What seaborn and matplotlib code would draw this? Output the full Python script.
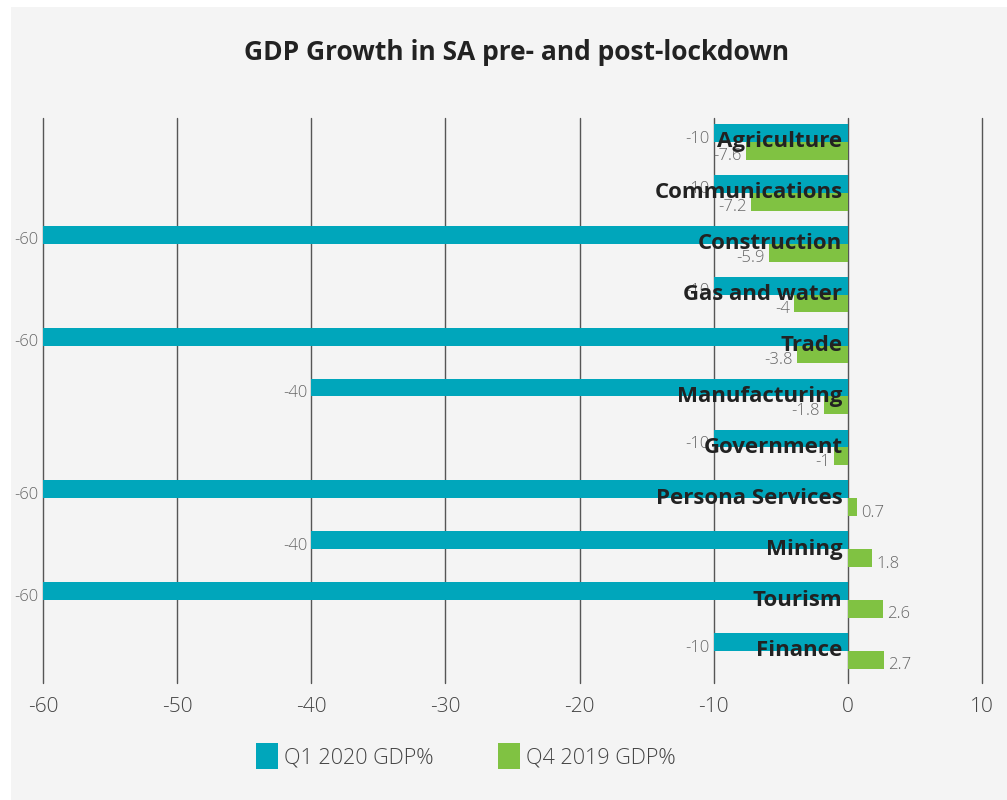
import matplotlib
matplotlib.use("Agg")
import matplotlib.pyplot as plt
import pandas as pd
import seaborn as sns
from matplotlib.patches import Rectangle

# data
sectors = ["Agriculture", "Communications", "Construction", "Gas and water", "Trade",
           "Manufacturing", "Government", "Persona Services", "Mining", "Tourism", "Finance"]
q1_2020 = [-10, -10, -60, -10, -60, -40, -10, -60, -40, -60, -10]
q4_2019 = [-7.6, -7.2, -5.9, -4, -3.8, -1.8, -1, 0.7, 1.8, 2.6, 2.7]
series = ["Q1 2020 GDP%", "Q4 2019 GDP%"]
colors = ["#00a6bb", "#80c242"]

df = pd.DataFrame({
    "Sector": sectors * 2,
    "Value": q1_2020 + q4_2019,
    "Series": [series[0]] * len(sectors) + [series[1]] * len(sectors),
})

sns.set_theme(style="white")
plt.rcParams["font.family"] = ["Open Sans", "DejaVu Sans"]
plt.rcParams["axes.unicode_minus"] = False

fig = plt.figure(figsize=(10.07, 8), dpi=100)
fig.patch.set_facecolor("white")
fig.patches.append(Rectangle((11 / 1007, 0), 1, 793 / 800, transform=fig.transFigure,
                             facecolor="#f4f4f4", edgecolor="none", zorder=-10))

ax = fig.add_axes([43 / 1007, 1 - 683 / 800, (982 - 43) / 1007, (683 - 118) / 800])
ax.set_facecolor("#f4f4f4")

sns.barplot(data=df, y="Sector", x="Value", hue="Series", orient="h",
            palette=colors, width=0.7, dodge=True, ax=ax, zorder=3, saturation=1,
            linewidth=0, edgecolor="none")

# value labels, a little below the bar centre like the original
for cont in ax.containers:
    for bar, v in zip(cont.patches, cont.datavalues):
        yc = bar.get_y() + bar.get_height() / 2
        if v < 0:
            ax.annotate(f"{v:g}", (v, yc), xytext=(-3, -4), textcoords="offset points",
                        ha="right", va="center", fontsize=12, color="#666666",
                        fontweight="light", zorder=4)
        else:
            ax.annotate(f"{v:g}", (v, yc), xytext=(3, -4), textcoords="offset points",
                        ha="left", va="center", fontsize=12, color="#666666",
                        fontweight="light", zorder=4)

# sector labels sitting on the bars at zero
for i, name in enumerate(sectors):
    ax.text(-0.4, i, name, ha="right", va="center", fontsize=16, fontweight="bold",
            color="#222222", zorder=5)

ax.set_xlim(-60, 10)
ax.set_ylim(10.63, -0.47)
ax.set_xticks(range(-60, 11, 10))
ax.set_yticks([])
ax.set_xlabel("")
ax.set_ylabel("")
ax.grid(axis="x", color="#555555", linewidth=1, zorder=0)
for gl in ax.get_xgridlines():
    gl.set_clip_on(False)
ax.set_axisbelow(True)
for s in ax.spines.values():
    s.set_visible(False)
ax.tick_params(axis="x", labelsize=15, labelcolor="#444444", length=0, pad=10)
for lbl in ax.get_xticklabels():
    lbl.set_fontweight("light")

handles, labels = ax.get_legend_handles_labels()
ax.get_legend().remove()
leg = fig.legend(handles, labels, loc="center", bbox_to_anchor=(466 / 1007, 1 - 756 / 800),
                 ncol=2, frameon=False, fontsize=15.5, handlelength=1.0, handleheight=1.5,
                 handletextpad=0.3, columnspacing=3.0)
for t in leg.get_texts():
    t.set_color("#444444")
    t.set_fontweight("light")

fig.text(517 / 1007, 1 - 53 / 800, "GDP Growth in SA pre- and post-lockdown",
         ha="center", va="center", fontsize=19, fontweight="bold", color="#222222")

fig.savefig("out.png", dpi=100)
